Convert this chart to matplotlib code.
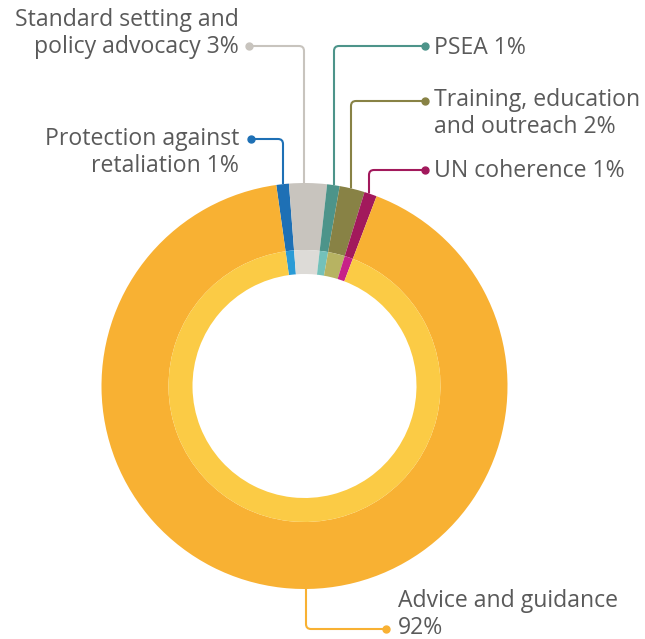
import numpy as np
import matplotlib.pyplot as plt
from matplotlib.path import Path
from matplotlib.patches import PathPatch

# Share of activities, clockwise from just left of 12 o'clock
labels = ['Protection against\nretaliation 1%',
          'Standard setting and\npolicy advocacy 3%',
          'PSEA 1%',
          'Training, education\nand outreach 2%',
          'UN coherence 1%',
          'Advice and guidance\n92%']
shares = [1, 3, 1, 2, 1, 92]

outer_colors = ['#1E70B5', '#C8C4BE', '#4D948A', '#888245', '#A2195C', '#F8B133']
inner_colors = ['#2A9BD6', '#DDDBD7', '#73C1BA', '#B7B362', '#C72288', '#FBCB45']

W, H = 645, 639
fig = plt.figure(figsize=(W / 100, H / 100), dpi=100)
ax = fig.add_axes([0, 0, 1, 1])

cx, cy = 304.5, H - 386
R, Rm, Ri = 203, 136, 112
start = 98

ax.pie(shares, radius=R, center=(cx, cy), startangle=start, counterclock=False,
       colors=outer_colors, wedgeprops=dict(width=R - Rm, linewidth=0))
ax.pie(shares, radius=Rm, center=(cx, cy), startangle=start, counterclock=False,
       colors=inner_colors, wedgeprops=dict(width=Rm - Ri, linewidth=0))

# label layout: text x, last baseline y, align, dot (x, y), elbow x, side of ring
layout = [
    (239, 172, 'right', (251, 139), 283, 'top'),
    (239, 53, 'right', (249, 46), 304, 'top'),
    (434, 54, 'left', (425, 46), 334, 'top'),
    (434, 133, 'left', (425, 101), 351, 'top'),
    (434, 177, 'left', (425, 170), 369, 'top'),
    (398, 634, 'left', (386, 629), 306, 'bottom'),
]


def leader(dot, ex, side, color, rad=5):
    dx, dy = dot[0], H - dot[1]
    half = np.sqrt(R ** 2 - (ex - cx) ** 2)
    ey = cy + half if side == 'top' else cy - half
    sx = np.sign(ex - dx)
    sy = np.sign(ey - dy)
    verts = [(dx, dy), (ex - sx * rad, dy), (ex, dy), (ex, dy + sy * rad), (ex, ey)]
    codes = [Path.MOVETO, Path.LINETO, Path.CURVE3, Path.CURVE3, Path.LINETO]
    ax.add_patch(PathPatch(Path(verts, codes), fill=False, edgecolor=color,
                           linewidth=1.5, capstyle='butt', zorder=3))
    ax.plot(dx, dy, 'o', color=color, markersize=5, zorder=4)


for lab, col, (tx, ty, ha, dot, ex, side) in zip(labels, outer_colors, layout):
    leader(dot, ex, side, col)
    ax.text(tx, H - ty, lab, ha=ha, va='baseline', multialignment=ha,
            fontsize=16.6, family='Open Sans', color='#5A5A5A', linespacing=1.17)

ax.set_xlim(0, W)
ax.set_ylim(0, H)
ax.set_aspect('equal')
ax.axis('off')

fig.savefig('out.png', dpi=100)
